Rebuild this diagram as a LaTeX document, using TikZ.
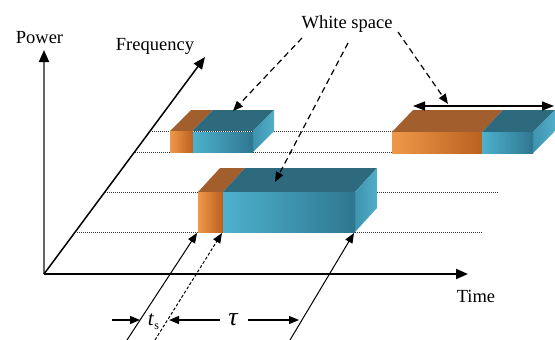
\documentclass[tikz,border=0pt]{standalone}
\usepackage{fontspec}
\setmainfont{Liberation Serif}
\usetikzlibrary{arrows.meta}
\definecolor{orL}{HTML}{F09849}
\definecolor{orD}{HTML}{B9611F}
\definecolor{orTop}{HTML}{A35E2D}
\definecolor{tlL}{HTML}{4DB1CD}
\definecolor{tlD}{HTML}{2F7690}
\definecolor{tlTop}{HTML}{2E6A7E}
\definecolor{tlSideL}{HTML}{3E93AE}
\definecolor{tlSideR}{HTML}{52AECA}
\definecolor{axgray}{HTML}{666666}
\tikzset{
  bigtip/.style={-{Triangle[length=12pt,width=10pt,color=black]}},
  midtip/.style={-{Triangle[length=10pt,width=8pt]}},
  dotline/.style={line width=0.8pt, dash pattern=on 1pt off 1pt, black!80},
  pointer/.style={line width=1.2pt, dash pattern=on 6pt off 4pt, midtip},
  orfront/.style={left color=orL, right color=orD},
  tlfront/.style={left color=tlL, right color=tlD},
  ortop/.style={fill=orTop},
  tltop/.style={fill=tlTop},
  tlside/.style={left color=tlSideL, right color=tlSideR},
  lbl/.style={anchor=base, inner sep=0pt}
}
\begin{document}
\begin{tikzpicture}[x=1pt,y=-1pt,font=\fontsize{18.5}{20}\selectfont]
\useasboundingbox (0,0) rectangle (555,340);

% axes
\coordinate (O) at (44,274);
\coordinate (Ptip) at (44,50);
\coordinate (Ttip) at (468,274);
\coordinate (Ftip) at (205,57);
\draw[axgray, line width=2pt, bigtip] (O) -- (Ptip);
\draw[line width=2pt, bigtip] (O) -- (Ttip);
\draw[line width=1.5pt, bigtip] (O) -- (Ftip);

\node[lbl] (power) at (39.5,43) {Power};
\node[lbl] (freq) at (155,50) {Frequency};
\node[lbl] (time) at (476,302) {Time};
\node[lbl] (white) at (347,28) {White space};

% dotted guide lines
\coordinate (d1a) at (150,131); \coordinate (d1b) at (393,131);
\coordinate (d2a) at (135,152); \coordinate (d2b) at (393,152);
\coordinate (d3a) at (105,192); \coordinate (d3b) at (498,192);
\coordinate (d4a) at (75,232);  \coordinate (d4b) at (483,232);
\draw[dotline] (d1a) -- (d1b);
\draw[dotline] (d2a) -- (d2b);
\draw[dotline] (d3a) -- (d3b);
\draw[dotline] (d4a) -- (d4b);

% small box A
\fill[ortop] (170,131) -- (192,131) -- (213,110) -- (191,110) -- cycle;
\fill[tltop] (192,131) -- (253,131) -- (274,110) -- (213,110) -- cycle;
\shade[tlside] (253,131) -- (274,110) -- (274,131) -- (253,152) -- cycle;
\shade[orfront] (170,131) rectangle (193,152);
\shade[tlfront] (193,132) rectangle (253,152);

% right box B
\fill[ortop] (392,132) -- (482,132) -- (503,110) -- (413,110) -- cycle;
\fill[tltop] (482,132) -- (533,132) -- (555,110) -- (503,110) -- cycle;
\shade[tlside] (533,132) -- (555,110) -- (555,131) -- (533,153) -- cycle;
\shade[orfront] (392,132) rectangle (482,153);
\shade[tlfront] (482,132) rectangle (533,153);

% big box C
\fill[ortop] (198,192) -- (223,192) -- (245,168) -- (220,168) -- cycle;
\fill[tltop] (223,192) -- (355,192) -- (377,168) -- (245,168) -- cycle;
\shade[tlside] (355,192) -- (377,168) -- (377,208) -- (355,232) -- cycle;
\shade[orfront] (198,192) rectangle (223,232);
\shade[tlfront] (223,192) rectangle (355,232);

% double arrow above right box
\coordinate (wl) at (413,106);
\coordinate (wr) at (554,106);
\draw[line width=1.5pt, {Triangle[length=12pt,width=9pt]}-{Triangle[length=12pt,width=9pt]}] (wl) -- (wr);

% white space pointers
\coordinate (ws1) at (302,38); \coordinate (ws1t) at (233,111);
\coordinate (ws2) at (348,43); \coordinate (ws2t) at (275,182);
\coordinate (ws3) at (398,32); \coordinate (ws3t) at (448,104);
\draw[pointer] (ws1) -- (ws1t);
\draw[pointer] (ws2) -- (ws2t);
\draw[pointer] (ws3) -- (ws3t);

% lines from below
\coordinate (b1) at (127,340); \coordinate (b1t) at (197,233);
\coordinate (b2) at (155,340); \coordinate (b2t) at (222,233);
\coordinate (b3) at (290,340); \coordinate (b3t) at (354,233);
\draw[line width=1pt, midtip] (b1) -- (b1t);
\draw[line width=1pt, dash pattern=on 3pt off 2pt, midtip] (b2) -- (b2t);
\draw[line width=1pt, midtip] (b3) -- (b3t);

% dimension arrows
\coordinate (h1) at (112,320); \coordinate (h1t) at (140,320);
\coordinate (h2) at (220,320); \coordinate (h2t) at (169,320);
\coordinate (h3) at (248,320); \coordinate (h3t) at (299,320);
\draw[line width=1.2pt, midtip] (h1) -- (h1t);
\draw[line width=1.2pt, midtip] (h2) -- (h2t);
\draw[line width=1.2pt, midtip] (h3) -- (h3t);
\node[lbl] (ts) at (153.5,325) {\fontsize{21}{22}\selectfont\itshape t\kern0.5pt\raisebox{-4pt}{\upshape\fontsize{12}{12}\selectfont s}};
\node[lbl] (tau) at (233,325) {\fontsize{26}{26}\selectfont\itshape τ};
\end{tikzpicture}
\end{document}
